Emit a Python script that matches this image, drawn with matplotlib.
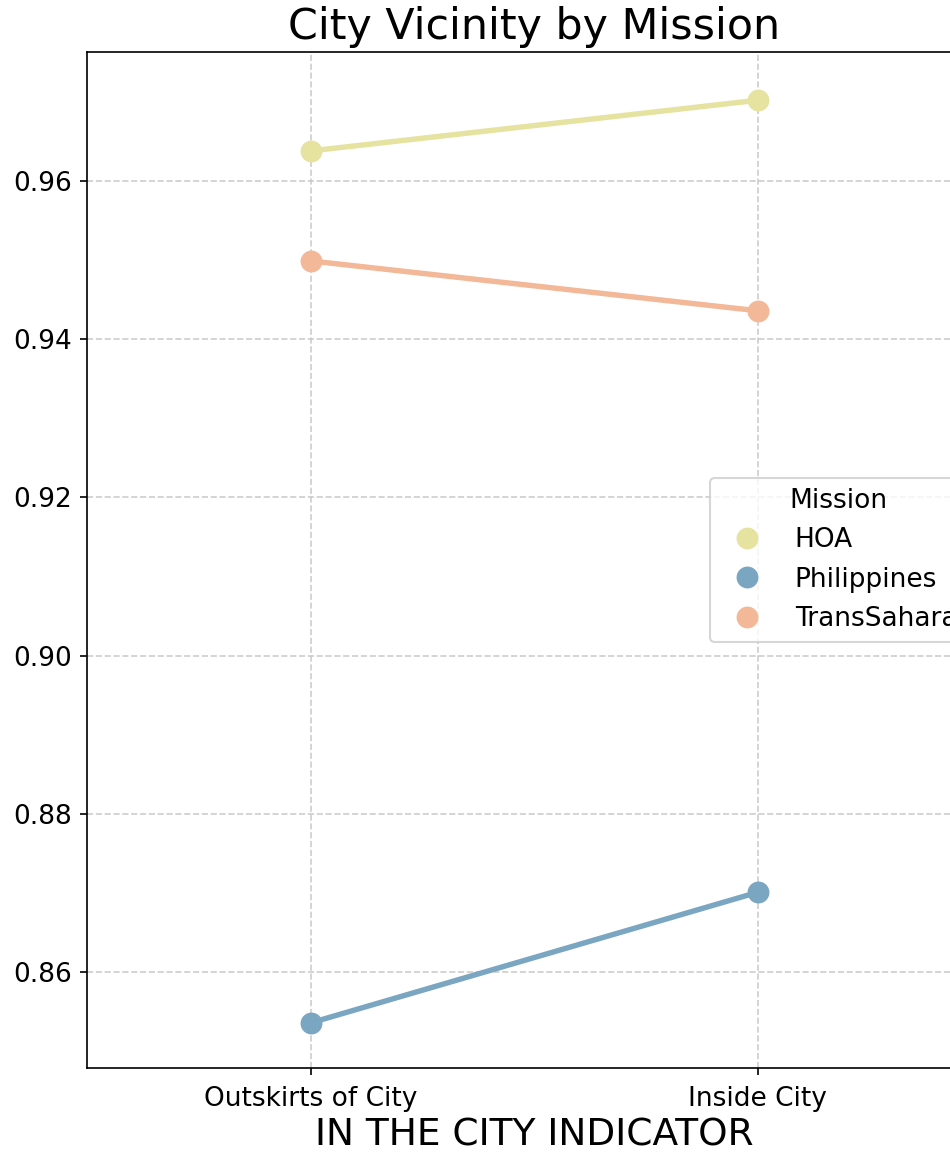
import matplotlib
matplotlib.use("Agg")
import matplotlib.pyplot as plt
from matplotlib.lines import Line2D

categories = ["Outskirts of City", "Inside City"]
missions = ["HOA", "Philippines", "TransSahara"]
hoa = [0.9638, 0.9702]
philippines = [0.8536, 0.8701]
transsahara = [0.9499, 0.9436]
colors = ["#e6e2a0", "#7aa6c2", "#f2b898"]
series = [hoa, philippines, transsahara]

dpi = 150
fig = plt.figure(figsize=(950 / dpi, 1162 / dpi), dpi=dpi)
ax = fig.add_axes([87 / 950, (1162 - 1068) / 1162, (981 - 87) / 950, (1068 - 52) / 1162])

x = list(range(len(categories)))
for name, vals, c in zip(missions, series, colors):
    ax.plot(x, vals, color=c, linewidth=2.6, marker="o", markersize=9.5, label=name, zorder=3)

ax.set_xticks(x)
ax.set_xticklabels(categories, fontsize=12.7)
ax.tick_params(axis="x", pad=5)
ax.tick_params(axis="y", labelsize=12.7)
ax.set_xlim(-0.5, 1.5)
ax.set_ylim(0.8479, 0.9763)
ax.set_yticks([0.86, 0.88, 0.90, 0.92, 0.94, 0.96])
ax.grid(True, linestyle="--", color="#c8c8c8", linewidth=0.8, alpha=0.9, zorder=0)
ax.set_axisbelow(True)
ax.set_xlabel("IN THE CITY INDICATOR", fontsize=18, labelpad=3)
ax.set_title("City Vicinity by Mission", fontsize=20.5)

handles = [Line2D([], [], linestyle="none", marker="o", markersize=9.5, color=c) for c in colors]
ax.legend(handles, missions, title="Mission", loc="center right", fontsize=12.7, title_fontsize=12.7)

fig.savefig("out.png", dpi=dpi)
